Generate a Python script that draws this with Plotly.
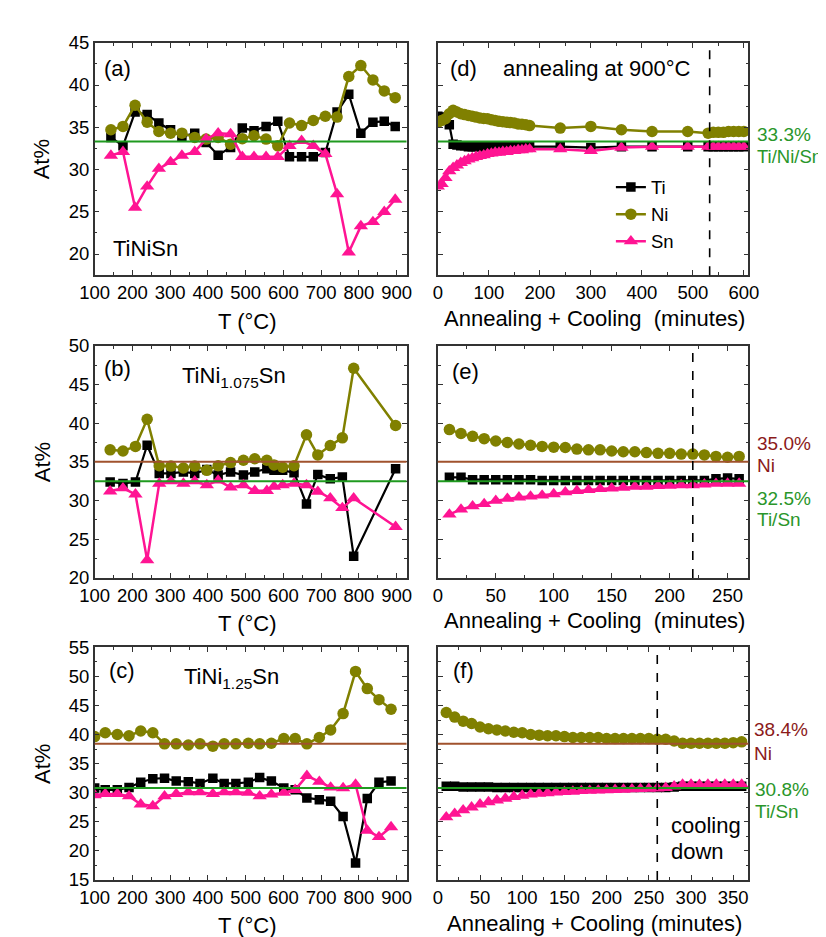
import plotly.graph_objects as go

# ---------------- data ----------------
# (a) TiNiSn, heating
T_a = [143, 175, 207, 239, 270, 301, 331, 365, 395, 427, 460, 491, 522, 554, 585, 616, 648, 679, 711, 742, 773, 805, 837, 867, 896]
Ti_a = [33.8, 32.8, 36.8, 36.5, 35.5, 34.7, 33.9, 34.3, 33.2, 31.7, 32.6, 34.9, 34.6, 35.1, 35.7, 31.5, 31.5, 31.5, 32.0, 36.8, 38.9, 34.3, 35.6, 35.7, 35.1]
Ni_a = [34.7, 35.1, 37.6, 35.6, 34.5, 34.3, 34.3, 33.8, 33.6, 33.8, 33.0, 33.65, 34.0, 33.6, 32.8, 35.5, 35.2, 35.8, 36.3, 36.2, 41.0, 42.3, 40.6, 39.3, 38.5]
Sn_a = [31.65, 32.1, 25.5, 28.0, 30.1, 30.9, 31.65, 32.1, 33.6, 34.3, 34.2, 31.5, 31.5, 31.5, 31.5, 32.8, 33.4, 32.8, 31.85, 27.1, 20.2, 23.3, 23.8, 25.0, 26.45]

# (b) TiNi1.075Sn, heating
T_b = [141, 175, 208, 239, 271, 302, 335, 365, 397, 427, 460, 494, 524, 556, 575, 598, 628, 661, 691, 724, 756, 786, 897]
Ti_b = [32.4, 32.2, 32.4, 37.15, 33.5, 33.5, 33.7, 33.5, 34.0, 33.3, 33.7, 33.3, 33.7, 34.1, 33.9, 33.9, 33.6, 29.55, 33.35, 32.8, 33.05, 22.8, 34.1]
Ni_b = [36.55, 36.4, 37.0, 40.5, 34.5, 34.45, 34.2, 34.45, 33.9, 34.5, 34.9, 35.2, 35.4, 35.2, 34.6, 34.3, 34.5, 38.5, 35.9, 37.1, 38.1, 47.1, 39.7]
Sn_b = [31.2, 31.6, 30.8, 22.3, 32.2, 32.5, 32.2, 32.5, 32.0, 32.6, 31.7, 32.0, 31.25, 31.25, 31.8, 32.0, 32.2, 32.0, 31.15, 30.3, 29.05, 30.3, 26.6]

# (c) TiNi1.25Sn, heating
T_c = [100, 128, 160, 191, 222, 254, 285, 316, 348, 379, 413, 443, 474, 507, 537, 568, 601, 631, 662, 695, 725, 758, 791, 822, 853, 885]
Ti_c = [30.8, 30.5, 30.5, 30.9, 31.8, 32.4, 32.5, 32.0, 31.9, 31.6, 32.5, 31.6, 31.6, 31.8, 32.6, 32.0, 30.8, 30.5, 29.1, 28.8, 28.55, 25.9, 17.9, 29.0, 31.8, 32.0]
Ni_c = [39.65, 40.3, 40.0, 39.8, 40.6, 40.3, 38.4, 38.4, 38.2, 38.4, 38.0, 38.4, 38.4, 38.5, 38.4, 38.5, 39.3, 39.3, 38.4, 39.5, 40.8, 43.6, 50.85, 47.9, 46.0, 44.35]
Sn_c = [29.6, 29.8, 29.8, 29.4, 28.0, 27.7, 29.4, 29.8, 30.1, 30.1, 29.8, 30.1, 30.1, 30.0, 29.4, 29.7, 30.0, 30.5, 32.9, 31.9, 30.9, 30.8, 31.4, 23.5, 22.4, 24.1]

# (d) annealing TiNiSn
t_d = [0, 7.5, 15, 22.5, 30, 37.5, 45, 52.5, 60, 67.5, 75, 82.5, 90, 97.5, 105, 112.5, 120, 127.5, 135, 142.5, 150, 157.5, 165, 172.5, 180,
       240, 300, 360, 420, 490, 530, 540, 550, 560, 570, 580, 590, 600]
Ti_d = [36.3, 36.2, 36.0, 35.3, 33.0, 32.9, 32.8, 32.8, 32.7, 32.7, 32.7, 32.7, 32.7, 32.7, 32.7, 32.7, 32.7, 32.7, 32.7, 32.7, 32.7, 32.7, 32.7, 32.7, 32.7,
        32.7, 32.6, 32.7, 32.7, 32.7, 32.7, 32.7, 32.7, 32.7, 32.7, 32.7, 32.7, 32.7]
Ni_d = [35.6, 35.8, 36.0, 36.6, 37.0, 36.8, 36.6, 36.5, 36.4, 36.3, 36.2, 36.1, 36.05, 36.0, 35.9, 35.8, 35.7, 35.65, 35.6, 35.55, 35.5, 35.4, 35.35, 35.3, 35.2,
        34.9, 35.1, 34.7, 34.5, 34.5, 34.3, 34.4, 34.4, 34.4, 34.5, 34.5, 34.5, 34.5]
Sn_d = [28.0, 28.3, 29.0, 29.8, 30.2, 30.5, 30.8, 31.0, 31.2, 31.35, 31.5, 31.6, 31.7, 31.85, 31.9, 32.0, 32.0, 32.1, 32.1, 32.2, 32.2, 32.3, 32.3, 32.4, 32.4,
        32.4, 32.2, 32.6, 32.7, 32.7, 32.7, 32.7, 32.7, 32.7, 32.7, 32.7, 32.7, 32.7]

# (e) annealing TiNi1.075Sn
t_e = [10, 20, 30, 40, 50, 60, 70, 80, 90, 100, 110, 120, 130, 140, 150, 160, 170, 180, 190, 200, 210, 220, 230, 240, 250, 260]
Ti_e = [33.0, 33.0, 32.7, 32.7, 32.7, 32.7, 32.7, 32.7, 32.6, 32.6, 32.6, 32.6, 32.6, 32.6, 32.6, 32.6, 32.6, 32.6, 32.6, 32.6, 32.6, 32.6, 32.6, 32.8, 32.9, 32.8]
Ni_e = [39.17, 38.66, 38.3, 38.0, 37.7, 37.5, 37.3, 37.15, 37.0, 36.9, 36.85, 36.65, 36.55, 36.55, 36.4, 36.3, 36.3, 36.2, 36.1, 36.1, 36.0, 36.0, 35.9, 35.7, 35.6, 35.7]
Sn_e = [28.21, 28.85, 29.27, 29.56, 29.98, 30.24, 30.41, 30.53, 30.66, 30.83, 31.08, 31.25, 31.37, 31.5, 31.58, 31.67, 31.8, 31.8, 31.88, 31.92, 32.0, 32.0, 32.1, 32.17, 32.2, 32.2]

# (f) annealing TiNi1.25Sn
t_f = [10, 20, 30, 40, 50, 60, 70, 80, 90, 100, 110, 120, 130, 140, 150, 160, 170, 180, 190, 200, 210, 220, 230, 240, 250, 260,
       270, 280, 290, 300, 310, 320, 330, 340, 350, 360]
Ti_f = [31.1, 31.1, 31.0, 31.0, 31.0, 31.0, 30.9, 30.9, 30.9, 30.9, 30.9, 30.9, 30.9, 30.9, 30.9, 30.9, 30.9, 30.9, 30.9, 30.9, 30.9, 30.9, 30.9, 30.9, 30.9, 30.9,
        30.9, 31.0, 31.1, 31.1, 31.1, 31.1, 31.1, 31.1, 31.1, 31.1]
Ni_f = [43.8, 43.0, 42.3, 41.9, 41.3, 41.0, 40.8, 40.6, 40.4, 40.3, 40.0, 39.9, 39.8, 39.8, 39.65, 39.5, 39.5, 39.5, 39.5, 39.3, 39.3, 39.3, 39.3, 39.3, 39.3, 39.2,
        39.2, 38.9, 38.5, 38.5, 38.5, 38.5, 38.5, 38.5, 38.6, 38.75]
Sn_f = [25.8, 26.4, 27.0, 27.5, 28.0, 28.4, 28.7, 29.0, 29.3, 29.5, 29.7, 29.85, 29.95, 30.05, 30.15, 30.2, 30.3, 30.35, 30.4, 30.45, 30.5, 30.55, 30.6, 30.65, 30.7, 30.75,
        30.85, 31.1, 31.4, 31.4, 31.35, 31.4, 31.4, 31.4, 31.4, 31.4]

# nominal compositions and end-of-annealing markers
nominal_row = [(None, 33.3), (35.0, 32.5), (38.4, 30.8)]   # (Ni, Ti/Sn)
cool_start = [533, 220, 260]

# ---------------- style ----------------
W, H = 826, 937
FONT = "Arial, Liberation Sans, sans-serif"
C_TI, C_NI, C_SN = "black", "#808000", "#ff1493"
C_GREEN_LINE, C_GREEN_TXT = "#1f9a1f", "#2a962a"
C_BROWN_LINE, C_BROWN_TXT = "#a0522d", "#8b1a1a"
AXC = "#333333"

def px(x):
    return x / W

def py(y):
    return 1 - y / H

left_dom = [px(74), px(396)]
right_dom = [px(428.3), px(749)]
row_px = [(24.3, 262), (334.3, 571.7), (642.7, 880.7)]
row_dom = [[py(b), py(t)] for t, b in row_px]

fig = go.Figure()

panels = [
    (1, T_a, Ti_a, Ni_a, Sn_a, False),
    (2, t_d, Ti_d, Ni_d, Sn_d, True),
    (3, T_b, Ti_b, Ni_b, Sn_b, False),
    (4, t_e, Ti_e, Ni_e, Sn_e, False),
    (5, T_c, Ti_c, Ni_c, Sn_c, False),
    (6, t_f, Ti_f, Ni_f, Sn_f, False),
]

for k, xs, ti, ni, sn, leg in panels:
    xa = "x" if k == 1 else f"x{k}"
    ya = "y" if k == 1 else f"y{k}"
    fig.add_trace(go.Scatter(x=xs, y=ti, xaxis=xa, yaxis=ya, mode="lines+markers", name="Ti",
                             line=dict(color=C_TI, width=2.2), marker=dict(symbol="square", size=9.5, color=C_TI),
                             showlegend=leg))
    fig.add_trace(go.Scatter(x=xs, y=ni, xaxis=xa, yaxis=ya, mode="lines+markers", name="Ni",
                             line=dict(color=C_NI, width=2.5), marker=dict(symbol="circle", size=11.5, color=C_NI),
                             showlegend=leg))
    fig.add_trace(go.Scatter(x=xs, y=sn, xaxis=xa, yaxis=ya, mode="lines+markers", name="Sn",
                             line=dict(color=C_SN, width=2.5), marker=dict(symbol="triangle-up", size=12.5, color=C_SN),
                             showlegend=leg))

common = dict(showline=True, linecolor=AXC, linewidth=1.5, mirror="ticks", ticks="inside", ticklen=5,
              tickwidth=1.2, tickcolor=AXC, showgrid=False, zeroline=False,
              tickfont=dict(size=18.5, color="black", family=FONT))

xranges = {1: [100, 926], 3: [100, 926], 5: [100, 926], 2: [0, 609], 4: [0, 268], 6: [0, 368]}
xdt = {1: 100, 3: 100, 5: 100, 2: 100, 4: 50, 6: 50}
yranges = {1: [17.5, 45], 2: [17.5, 45], 3: [20, 50], 4: [20, 50], 5: [15, 55], 6: [15, 55]}

layout = {}
for k in range(1, 7):
    row = (k - 1) // 2
    is_left = (k % 2 == 1)
    xname = "xaxis" if k == 1 else f"xaxis{k}"
    yname = "yaxis" if k == 1 else f"yaxis{k}"
    ya = "y" if k == 1 else f"y{k}"
    xa = "x" if k == 1 else f"x{k}"
    layout[xname] = dict(common, domain=left_dom if is_left else right_dom, range=xranges[k],
                         dtick=xdt[k], tick0=0, anchor=ya,
                         minor=dict(ticks="inside", ticklen=3, tickwidth=1, tickcolor=AXC, dtick=xdt[k] / 2))
    layout[yname] = dict(common, domain=row_dom[row], range=yranges[k], dtick=5, tick0=0, anchor=xa,
                         showticklabels=is_left,
                         minor=dict(ticks="inside", ticklen=3, tickwidth=1, tickcolor=AXC, dtick=2.5))
fig.update_layout(**layout)

# reference lines
shapes = []
for row in range(3):
    ni_v, tisn_v = nominal_row[row]
    for k in (2 * row + 1, 2 * row + 2):
        xa = "x" if k == 1 else f"x{k}"
        ya = "y" if k == 1 else f"y{k}"
        if ni_v is not None:
            shapes.append(dict(type="line", xref=f"{xa} domain", yref=ya, x0=0, x1=1, y0=ni_v, y1=ni_v,
                               line=dict(color=C_BROWN_LINE, width=2)))
        shapes.append(dict(type="line", xref=f"{xa} domain", yref=ya, x0=0, x1=1, y0=tisn_v, y1=tisn_v,
                           line=dict(color=C_GREEN_LINE, width=2)))
    k = 2 * row + 2
    shapes.append(dict(type="line", xref=f"x{k}", yref=f"y{k} domain", x0=cool_start[row], x1=cool_start[row],
                       y0=0, y1=1, line=dict(color="black", width=1.6, dash="dash")))
fig.update_layout(shapes=shapes)

ann = []

def text(x, y, s, size=22, color="black", xanchor="left", angle=0):
    ann.append(dict(x=px(x), y=py(y), xref="paper", yref="paper", text=s, showarrow=False,
                    xanchor=xanchor, yanchor="middle", textangle=angle,
                    font=dict(size=size, color=color, family=FONT)))

# panel labels
text(82, 51, "(a)")
text(91, 235, "TiNiSn")
text(439, 51, "(d)")
text(494, 51, "annealing at 900\u00b0C")
text(82, 358, "(b)")
text(162, 366, "TiNi<sub>1.075</sub>Sn")
text(441, 361, "(e)")
text(87, 666, "(c)")
text(164, 674, "TiNi<sub>1.25</sub>Sn")
text(442, 666, "(f)")
text(667, 825, "cooling")
text(667, 852, "down")

# nominal composition labels
text(756, 118, "33.3%", size=19, color=C_GREEN_TXT)
text(756, 141, "Ti/Ni/Sn", size=18.5, color=C_GREEN_TXT)
text(756, 434, "35.0%", size=19, color=C_BROWN_TXT)
text(756, 457, "Ni", size=19, color=C_BROWN_TXT)
text(756, 490, "32.5%", size=19, color=C_GREEN_TXT)
text(756, 512, "Ti/Sn", size=19, color=C_GREEN_TXT)
text(753, 727, "38.4%", size=19, color=C_BROWN_TXT)
text(753, 751, "Ni", size=19, color=C_BROWN_TXT)
text(754, 788, "30.8%", size=19, color=C_GREEN_TXT)
text(754, 811, "Ti/Sn", size=19, color=C_GREEN_TXT)

# axis titles
for (t, b) in row_px:
    text(20, (t + b) / 2, "At%", xanchor="center", angle=-90)
    text(232, b + 47, "T (\u00b0C)", xanchor="center")
text(590, 262 + 44, "Annealing + Cooling\u00a0 (minutes)", xanchor="center")
text(590, 571.7 + 44, "Annealing + Cooling\u00a0 (minutes)", xanchor="center")
text(590, 880.7 + 45, "Annealing + Cooling (minutes)", xanchor="center")

fig.update_layout(
    annotations=ann,
    width=W, height=H,
    margin=dict(l=0, r=0, t=0, b=0),
    paper_bgcolor="white", plot_bgcolor="white",
    font=dict(family=FONT, color="black"),
    legend=dict(x=px(607), y=py(153), xanchor="left", yanchor="top", bgcolor="rgba(0,0,0,0)",
                font=dict(size=18.5, family=FONT, color="black"), itemwidth=30, tracegroupgap=0),
)

fig.write_html("out.html")
